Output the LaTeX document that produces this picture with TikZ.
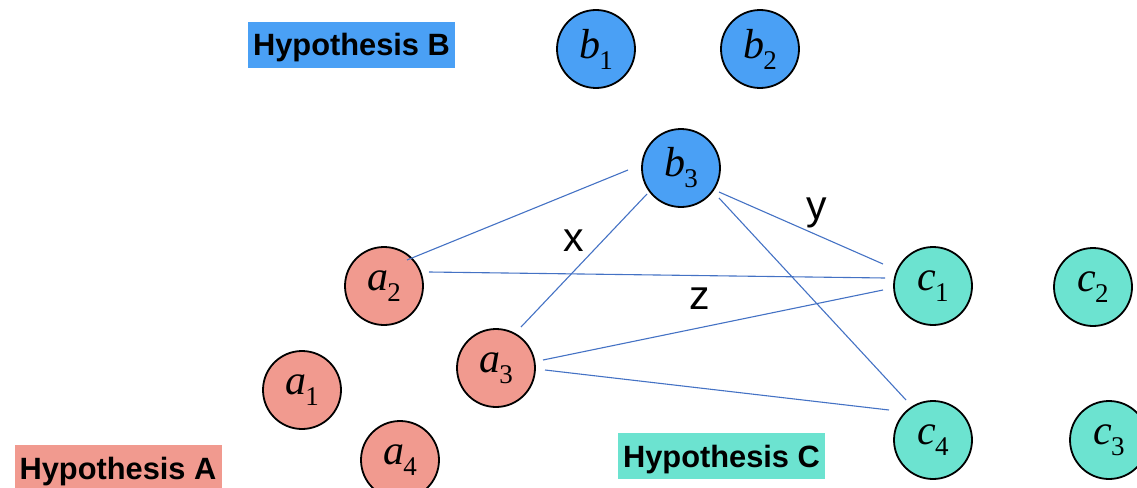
\documentclass[tikz,border=0pt]{standalone}
\usepackage{fontspec}
\setmainfont{Liberation Sans}
\newfontfamily\seriffam{Liberation Serif}
\usetikzlibrary{calc}
\definecolor{bblue}{HTML}{4AA0F5}
\definecolor{asalmon}{HTML}{F19A8F}
\definecolor{cteal}{HTML}{6CE3D0}
\definecolor{edgeblue}{HTML}{4472C4}
\newcommand{\vlab}[2]{{\seriffam\fontsize{42}{42}\selectfont\itshape #1\kern-0.02em\raisebox{-0.26em}{\fontsize{27}{27}\selectfont\upshape #2}}}
\tikzset{
  vnode/.style={circle, draw=black, line width=1.8pt, minimum size=78pt, inner sep=0pt},
  bnode/.style={vnode, fill=bblue},
  anode/.style={vnode, fill=asalmon},
  cnode/.style={vnode, fill=cteal},
  hyplabel/.style={font=\fontsize{30.8}{31}\selectfont\bfseries, minimum width=207pt, minimum height=46pt, inner sep=0pt, text height=22pt, text depth=0pt},
  edge/.style={draw=edgeblue, line width=1.1pt},
  elabel/.style={font=\fontsize{41}{41}\selectfont, inner sep=0pt}
}
\begin{document}
\begin{tikzpicture}[x=1pt, y=-1pt]
\useasboundingbox (0,0) rectangle (1137,487);
% hypothesis labels
\node[hyplabel, fill=bblue] (hb) at (351.5,45) {Hypothesis B};
\node[hyplabel, fill=asalmon] (ha) at (118,468) {Hypothesis A};
\node[hyplabel, fill=cteal] (hc) at (721.5,456) {Hypothesis C};
% nodes
\node[bnode] (b1) at (596,49) {\vlab{b}{1}};
\node[bnode] (b2) at (760,49) {\vlab{b}{2}};
\node[bnode] (b3) at (681,168) {\vlab{b}{3}};
\node[anode] (a2) at (384,286) {\vlab{a}{2}};
\node[anode] (a1) at (302,390) {\vlab{a}{1}};
\node[anode] (a3) at (496,368) {\vlab{a}{3}};
\node[anode] (a4) at (400,460) {\vlab{a}{4}};
\node[cnode] (c1) at (933,286) {\vlab{c}{1}};
\node[cnode] (c2) at (1093,287) {\vlab{c}{2}};
\node[cnode] (c4) at (933,440) {\vlab{c}{4}};
\node[cnode] (c3) at (1109,440) {\vlab{c}{3}};
% edges
\draw[edge] ($(b3)+(-53,2)$) -- ($(a2)+(23,-26)$);
\draw[edge] ($(b3)+(-34,26)$) -- ($(a3)+(25,-41)$);
\draw[edge] ($(a2)+(45,-14)$) -- ($(c1)+(-48,-8)$);
\draw[edge] ($(b3)+(38,24)$) -- ($(c1)+(-50,-22)$);
\draw[edge] ($(b3)+(38,30)$) -- ($(c4)+(-27,-40)$);
\draw[edge] ($(a3)+(47,-8)$) -- ($(c1)+(-50,4)$);
\draw[edge] ($(a3)+(49,2)$) -- ($(c4)+(-44,-30)$);
% edge labels
\node[elabel] (lx) at (574,241) {x};
\node[elabel] (ly) at (817,213) {y};
\node[elabel] (lz) at (700,299) {z};
\end{tikzpicture}
\end{document}
